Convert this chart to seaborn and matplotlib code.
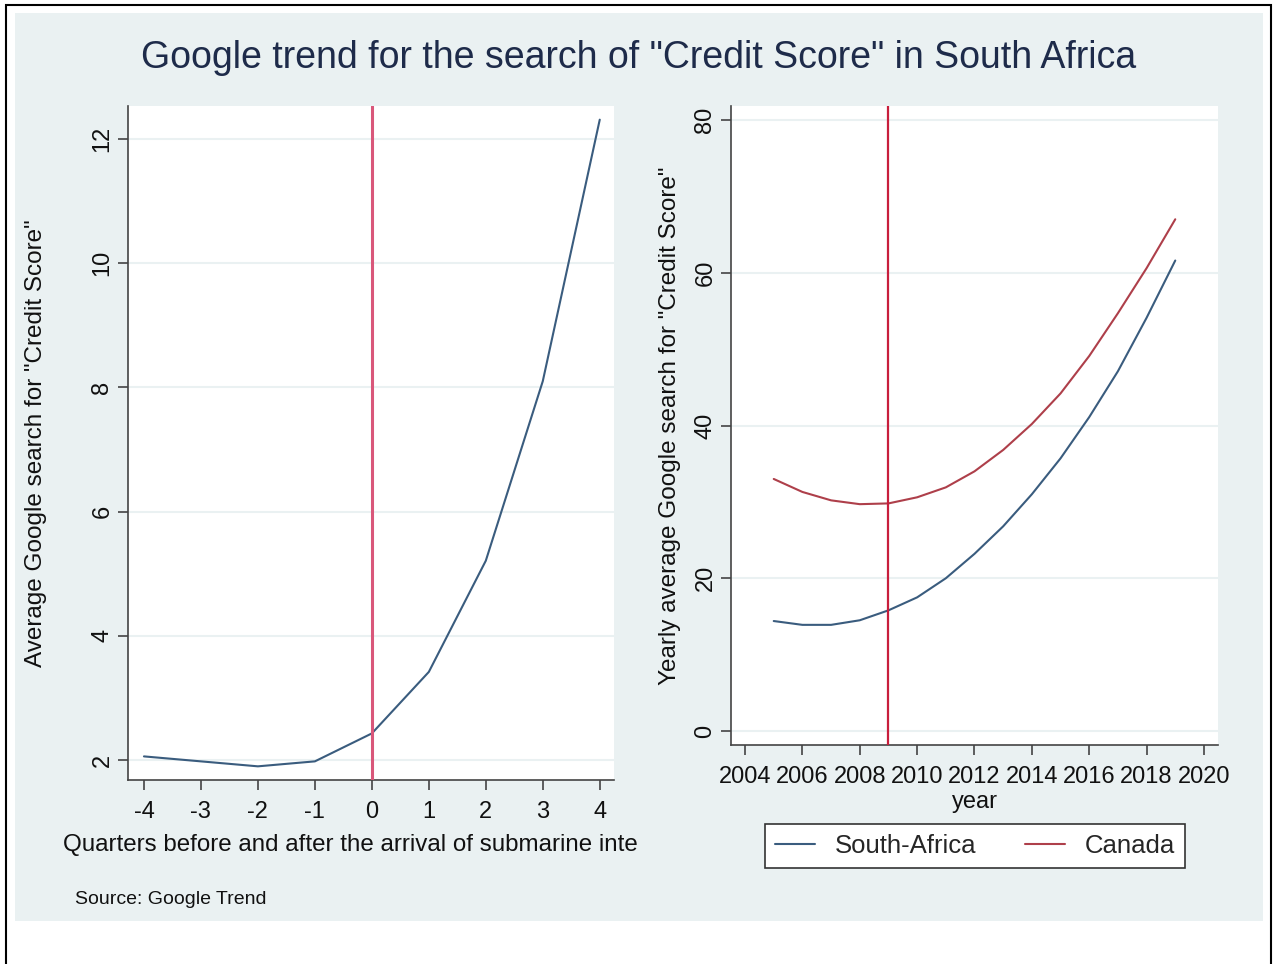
import numpy as np
import pandas as pd
import matplotlib.pyplot as plt
import seaborn as sns
from matplotlib.patches import Rectangle

# data
quarters = [-4, -3, -2, -1, 0, 1, 2, 3, 4]
avg_search = [2.06, 1.98, 1.90, 1.98, 2.43, 3.42, 5.21, 8.10, 12.31]

years = list(range(2005, 2020))
south_africa = [14.4, 13.9, 13.9, 14.5, 15.8, 17.5, 20.0, 23.2, 26.8,
                31.0, 35.7, 41.1, 47.1, 54.1, 61.6]
canada = [33.0, 31.3, 30.2, 29.7, 29.8, 30.6, 31.9, 34.0, 36.8,
          40.2, 44.2, 49.1, 54.7, 60.6, 67.0]

left_yticks = [2, 4, 6, 8, 10, 12]
right_yticks = [0, 20, 40, 60, 80]
right_xticks = list(range(2004, 2021, 2))

NAVY = "#3a5c7e"
MAROON = "#ae3f4a"
BG = "#eaf1f2"

sns.set_theme(style="white")
plt.rcParams['font.family'] = ['Liberation Sans', 'DejaVu Sans']
plt.rcParams['axes.unicode_minus'] = False

fig = plt.figure(figsize=(12.74, 9.64), dpi=100, facecolor="white")

# background panel and outer frame
fig.patches.append(Rectangle((15 / 1274, 1 - 921 / 964), 1248 / 1274, 908 / 964,
                             transform=fig.transFigure, facecolor=BG, edgecolor="none", zorder=-10))
fig.patches.append(Rectangle((6 / 1274, -0.01), 1265 / 1274, 1 - 5 / 964 + 0.01,
                             transform=fig.transFigure, facecolor="none", edgecolor="black",
                             linewidth=1.5, zorder=-9))

ax1 = fig.add_axes([128 / 1274, 1 - 780 / 964, 486 / 1274, 674 / 964])
ax2 = fig.add_axes([731 / 1274, 1 - 745 / 964, 487 / 1274, 639 / 964])

df_left = pd.DataFrame({"quarter": quarters, "search": avg_search})
df_right = pd.DataFrame({
    "year": years * 2,
    "value": south_africa + canada,
    "country": ["South-Africa"] * len(years) + ["Canada"] * len(years),
})

sns.lineplot(data=df_left, x="quarter", y="search", ax=ax1, color=NAVY, linewidth=1.5)
ax1.axvline(0, color="#d9577a", linewidth=2.2, zorder=3)
sns.lineplot(data=df_right, x="year", y="value", hue="country", ax=ax2,
             palette={"South-Africa": NAVY, "Canada": MAROON}, linewidth=1.5, legend=False)
ax2.axvline(2009, color="#c81e3c", linewidth=1.6, zorder=3)

ax1.set_xlim(-4.28, 4.25)
ax1.set_ylim(1.68, 12.53)
ax1.set_xticks(quarters)
ax1.set_yticks(left_yticks)
ax2.set_xlim(2003.51, 2020.49)
ax2.set_ylim(-1.83, 81.83)
ax2.set_xticks(right_xticks)
ax2.set_yticks(right_yticks)

for ax in (ax1, ax2):
    ax.set_facecolor("white")
    ax.grid(axis="y", color=BG, linewidth=1.5)
    ax.grid(axis="x", visible=False)
    for s in ("top", "right"):
        ax.spines[s].set_visible(False)
    for s in ("left", "bottom"):
        ax.spines[s].set_color("#444444")
        ax.spines[s].set_linewidth(1.2)
    ax.tick_params(axis="both", direction="out", length=7, width=1.2, color="#444444",
                   labelsize=17, labelcolor="#111111", left=True, bottom=True)
    ax.tick_params(axis="x", pad=8)
    for lab in ax.get_yticklabels():
        lab.set_rotation(90)
        lab.set_va("center")

ax1.set_xlabel("Quarters before and after the arrival of submarine inte", fontsize=17.4,
               color="#111111")
ax1.xaxis.set_label_coords(0.457, -0.08)
ax1.set_ylabel('Average Google search for "Credit Score"', fontsize=17.5, color="#111111",
               labelpad=32)
ax2.set_xlabel("year", fontsize=17, color="#111111", labelpad=2)
ax2.set_ylabel('Yearly average Google search for "Credit Score"', fontsize=17.5, color="#111111",
               labelpad=10)

fig.text(0.5016, 1 - 58 / 964, 'Google trend for the search of "Credit Score" in South Africa',
         ha="center", va="center", fontsize=27, color="#1e2b4a")
fig.text(75 / 1274, 1 - 899 / 964, "Source: Google Trend", ha="left", va="center",
         fontsize=14, color="#111111")

handles = [plt.Line2D([], [], color=NAVY, linewidth=1.5),
           plt.Line2D([], [], color=MAROON, linewidth=1.5)]
leg = fig.legend(handles, ["South-Africa", "Canada"], loc="center",
                 bbox_to_anchor=(975 / 1274, 1 - 846 / 964), ncol=2, fontsize=18.5,
                 frameon=True, fancybox=False, edgecolor="#333333", framealpha=1,
                 handlelength=1.55, handletextpad=0.78, columnspacing=1.9, borderpad=0.4)
leg.get_frame().set_linewidth(1.2)

fig.savefig("out.png", dpi=100, facecolor=fig.get_facecolor())
